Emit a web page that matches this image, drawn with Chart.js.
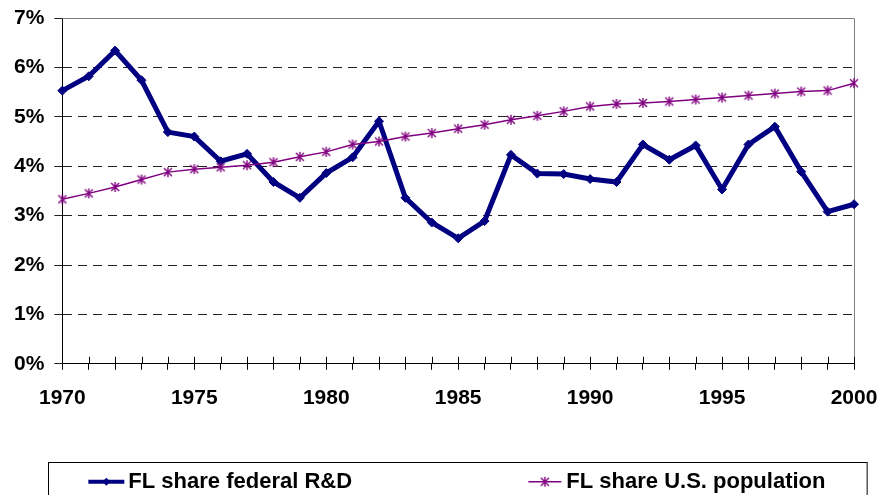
<!DOCTYPE html>
<html>
<head>
<meta charset="utf-8">
<script src="https://cdn.jsdelivr.net/npm/chart.js@4.4.1/dist/chart.umd.min.js"></script>
<style>
  html, body { margin: 0; padding: 0; background: #fff; }
  #wrap { width: 883px; height: 495px; }
</style>
</head>
<body>
<div id="wrap"><canvas id="chart1" width="883" height="495"></canvas></div>
<script>
// data
var years = [1970, 1971, 1972, 1973, 1974, 1975, 1976, 1977, 1978, 1979,
             1980, 1981, 1982, 1983, 1984, 1985, 1986, 1987, 1988, 1989,
             1990, 1991, 1992, 1993, 1994, 1995, 1996, 1997, 1998, 1999, 2000];
var rdShare = [5.53, 5.82, 6.34, 5.74, 4.69, 4.60, 4.10, 4.25, 3.68, 3.36,
               3.86, 4.18, 4.91, 3.36, 2.86, 2.54, 2.89, 4.23, 3.85, 3.84,
               3.74, 3.68, 4.44, 4.13, 4.42, 3.53, 4.44, 4.80, 3.89, 3.08, 3.23];
var popShare = [3.33, 3.45, 3.58, 3.73, 3.88, 3.94, 3.98, 4.02, 4.08, 4.19,
                4.29, 4.44, 4.50, 4.60, 4.67, 4.76, 4.84, 4.94, 5.02, 5.11,
                5.21, 5.26, 5.28, 5.31, 5.35, 5.39, 5.43, 5.47, 5.51, 5.53, 5.68];
var labelYears = [1970, 1975, 1980, 1985, 1990, 1995, 2000];
var seriesNames = ["FL share federal R&D", "FL share U.S. population"];

var FONT = '"Liberation Sans", Arial, sans-serif';
var NAVY = "#000080", PURPLE = "#800080";

// excel style star: X plus a vertical bar
function makeStar(color, size) {
  var c = document.createElement("canvas");
  c.width = size; c.height = size;
  var g = c.getContext("2d");
  var m = size / 2, r = size / 2 - 1;
  g.strokeStyle = color;
  g.lineWidth = 1.4;
  g.beginPath();
  g.moveTo(m - r * 0.8, m - r * 0.8); g.lineTo(m + r * 0.8, m + r * 0.8);
  g.moveTo(m + r * 0.8, m - r * 0.8); g.lineTo(m - r * 0.8, m + r * 0.8);
  g.moveTo(m, m - r); g.lineTo(m, m + r);
  g.stroke();
  return c;
}
var starImg = makeStar(PURPLE, 12);

function drawDiamond(ctx, x, y, r, color) {
  ctx.beginPath();
  ctx.moveTo(x, y - r); ctx.lineTo(x + r, y); ctx.lineTo(x, y + r); ctx.lineTo(x - r, y);
  ctx.closePath();
  ctx.fillStyle = color;
  ctx.fill();
}

// gray top/right frame
var frame = {
  id: "frame",
  beforeDatasetsDraw: function (chart) {
    var ctx = chart.ctx, a = chart.chartArea;
    ctx.save();
    ctx.strokeStyle = "#808080";
    ctx.lineWidth = 1;
    ctx.beginPath();
    ctx.moveTo(a.left, a.top + 0.5); ctx.lineTo(a.right + 0.5, a.top + 0.5);
    ctx.lineTo(a.right + 0.5, a.bottom);
    ctx.stroke();
    // the year ticks also poke up into the plot
    var sx = chart.scales.x;
    ctx.strokeStyle = "#000";
    ctx.beginPath();
    for (var i = 0; i < sx.ticks.length; i++) {
      var px = Math.round(sx.getPixelForTick(i)) + 0.5;
      ctx.moveTo(px, a.bottom - 7); ctx.lineTo(px, a.bottom);
    }
    ctx.stroke();
    ctx.restore();
  }
};

// legend in a box under the chart
var boxLegend = {
  id: "boxLegend",
  afterDraw: function (chart) {
    var ctx = chart.ctx, a = chart.chartArea;
    var left = a.left - 14, right = a.right + 13, top = a.bottom + 98;
    ctx.save();
    ctx.strokeStyle = "#000";
    ctx.lineWidth = 1;
    ctx.strokeRect(Math.round(left) + 0.5, Math.round(top) + 0.5, right - left, 60);

    var y = top + 20;
    ctx.font = "bold 22px " + FONT;
    ctx.textBaseline = "middle";

    // R&D item
    var x0 = left + 40;
    ctx.strokeStyle = NAVY; ctx.lineWidth = 4;
    ctx.beginPath(); ctx.moveTo(x0, y); ctx.lineTo(x0 + 36, y); ctx.stroke();
    drawDiamond(ctx, x0 + 18, y, 4, NAVY);
    ctx.fillStyle = "#000";
    ctx.fillText(chart.data.datasets[0].label, x0 + 40, y);

    // population item
    var x1 = left + 480;
    ctx.strokeStyle = PURPLE; ctx.lineWidth = 1.5;
    ctx.beginPath(); ctx.moveTo(x1, y); ctx.lineTo(x1 + 33, y); ctx.stroke();
    ctx.drawImage(starImg, x1 + 16.5 - 6, y - 6);
    ctx.fillStyle = "#000";
    ctx.fillText(chart.data.datasets[1].label, x1 + 38, y);
    ctx.restore();
  }
};

new Chart(document.getElementById("chart1"), {
  type: "line",
  data: {
    labels: years.map(String),
    datasets: [{
      label: seriesNames[0],
      data: rdShare,
      borderColor: NAVY,
      backgroundColor: NAVY,
      borderWidth: 5,
      pointStyle: "rectRot",
      pointRadius: 4.5,
      pointBorderWidth: 1,
      tension: 0,
      order: 2
    }, {
      label: seriesNames[1],
      data: popShare,
      borderColor: PURPLE,
      backgroundColor: PURPLE,
      borderWidth: 1.5,
      pointStyle: starImg,
      pointRadius: 6,
      tension: 0,
      order: 1
    }]
  },
  options: {
    responsive: false,
    animation: false,
    layout: { padding: { left: 4, right: 29, top: 18, bottom: 68 } },
    plugins: {
      legend: { display: false },
      tooltip: { enabled: false }
    },
    scales: {
      x: {
        type: "category",
        offset: false,
        afterFit: function (axis) { axis.paddingRight = 0; },
        grid: { drawOnChartArea: false, drawTicks: true, tickLength: 6, color: "#000" },
        border: { color: "#000", width: 1 },
        ticks: {
          autoSkip: false,
          maxRotation: 0,
          padding: 16,
          color: "#000",
          font: { family: FONT, size: 21, weight: "bold" },
          callback: function (val, i) {
            return labelYears.indexOf(years[i]) >= 0 ? String(years[i]) : "";
          }
        }
      },
      y: {
        min: 0,
        max: 7,
        afterFit: function (axis) { axis.paddingTop = 0; },
        grid: { color: "#222", tickLength: 8, tickBorderDash: [] },
        border: { color: "#000", width: 1, dash: [9, 6] },
        ticks: {
          stepSize: 1,
          padding: 10,
          color: "#000",
          font: { family: FONT, size: 21, weight: "bold" },
          callback: function (v) { return v + "%"; }
        }
      }
    }
  },
  plugins: [frame, boxLegend]
});
</script>
</body>
</html>
